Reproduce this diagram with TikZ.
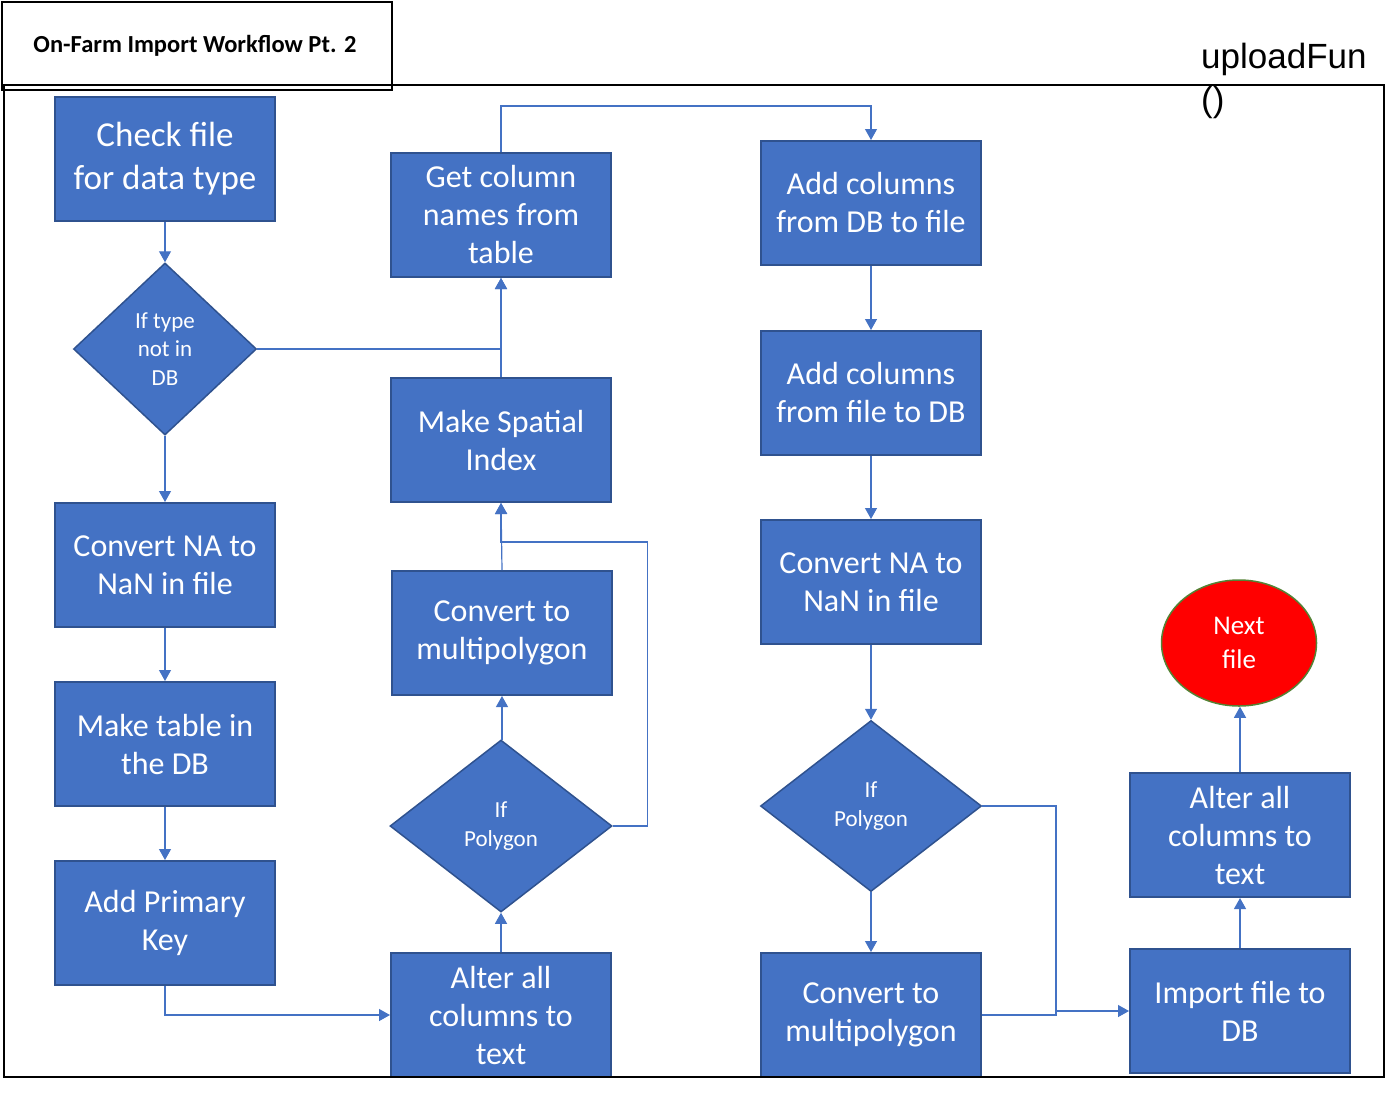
\documentclass[tikz,border=0pt]{standalone}
\usepackage{fontspec}
\setmainfont{Carlito}
\newfontfamily\arialf{Liberation Sans}
\usetikzlibrary{arrows.meta,shapes.geometric}
\definecolor{boxblue}{HTML}{4472C4}
\definecolor{boxedge}{HTML}{2F528F}
\definecolor{nextedge}{HTML}{548235}
\tikzset{
  procbox/.style={rectangle, fill=boxblue, draw=boxedge, line width=2pt, text=white,
    minimum width=220pt, minimum height=124pt, inner sep=0pt, align=center,
    font=\fontsize{32}{38}\selectfont},
  decbox/.style={diamond, fill=boxblue, draw=boxedge, line width=1.5pt, inner sep=0pt},
  dectext/.style={text=white, align=center, font=\fontsize{23}{28.5}\selectfont},
  conn/.style={draw=boxblue, line width=1.2pt, -{Triangle[length=11pt,width=12pt]}},
  plain/.style={draw=boxblue, line width=1.2pt},
}
\begin{document}
\begin{tikzpicture}[x=1pt,y=-1pt]
\useasboundingbox (0,0) rectangle (1396,1092);
% title box
\draw[black, line width=2pt] (2,2) rectangle (392,90);
\node[font=\fontsize{24.5}{28}\selectfont\bfseries] (title) at (195,46) {On-Farm Import Workflow Pt. 2};
\node[font=\arialf\fontsize{35}{43}\selectfont, anchor=north west, align=left, inner sep=0pt] (fun) at (1201,43) {uploadFun\\()};

% column 1
\node[procbox, font=\fontsize{35}{43}\selectfont] (cf) at (165,159) {Check file\\for data type};
\node[decbox, minimum width=183pt, minimum height=172pt,
  label={[dectext]center:{If type\\not in\\DB}}] (d1) at (165,349) {};
\node[procbox] (na1) at (165,565) {Convert NA to\\NaN in file};
\node[procbox] (mt) at (165,744) {Make table in\\the DB};
\node[procbox] (pk) at (165,923) {Add Primary\\Key};

% column 2
\node[procbox] (gc) at (501,215) {Get column\\names from\\table};
\node[procbox] (msi) at (501,440) {Make Spatial\\Index};
\node[procbox] (cm2) at (502,633) {Convert to\\multipolygon};
\node[decbox, minimum width=222pt, minimum height=172pt,
  label={[dectext]center:{If\\Polygon}}] (d2) at (501,826) {};
\node[procbox] (alt2) at (501,1015) {Alter all\\columns to\\text};

% column 3
\node[procbox] (adb) at (871,203) {Add columns\\from DB to file};
\node[procbox] (afd) at (871,393) {Add columns\\from file to DB};
\node[procbox] (na3) at (871,582) {Convert NA to\\NaN in file};
\node[decbox, minimum width=221pt, minimum height=171pt,
  label={[dectext]center:{If\\Polygon}}] (d3) at (871,806) {};
\node[procbox] (cm3) at (871,1015) {Convert to\\multipolygon};

% column 4
\node[ellipse, fill=red, draw=nextedge, line width=1.5pt, minimum width=155pt, minimum height=126pt,
  inner sep=0pt, text=white, align=center, font=\fontsize{27}{34}\selectfont] (nf) at (1239,643) {Next\\file};
\node[procbox] (alt4) at (1240,835) {Alter all\\columns to\\text};
\node[procbox] (imp) at (1240,1011) {Import file to\\DB};

% junction coordinates
\coordinate (j2) at (501,542);
\coordinate (jtop) at (871,106);
\coordinate (j3) at (1056,1011);

% connectors column 1
\draw[conn] (cf.south) -- (d1.north);
\draw[conn] (d1.south) -- (na1.north);
\draw[conn] (na1.south) -- (mt.north);
\draw[conn] (mt.south) -- (pk.north);
\draw[conn] (pk.south) |- (alt2.west);
% column 2
\draw[conn] (alt2.north) -- (d2.south);
\draw[conn] (d2.north) -- (cm2.south |- d2.north) -- (cm2.south);
\draw[conn] (cm2.north) -- (msi.south);
\draw[conn] (d2.east) -- ++(35,0) |- (j2) -- (msi.south);
\draw[conn] (msi.north) -- (gc.south);
\draw[conn] (d1.east) -| (gc.south);
\draw[conn] (gc.north) |- (jtop) -- (adb.north);
% column 3
\draw[conn] (adb.south) -- (afd.north);
\draw[conn] (afd.south) -- (na3.north);
\draw[conn] (na3.south) -- (d3.north);
\draw[conn] (d3.south) -- (cm3.north);
\draw[conn] (d3.east) -| (j3) -- (imp.west);
\draw[plain] (cm3.east) -| (j3);
% column 4
\draw[conn] (imp.north) -- (alt4.south);
\draw[conn] (alt4.north) -- (alt4.north |- nf.south);

% outer frame
\draw[black, line width=2pt] (4,85) rectangle (1384,1077);
\end{tikzpicture}
\end{document}
